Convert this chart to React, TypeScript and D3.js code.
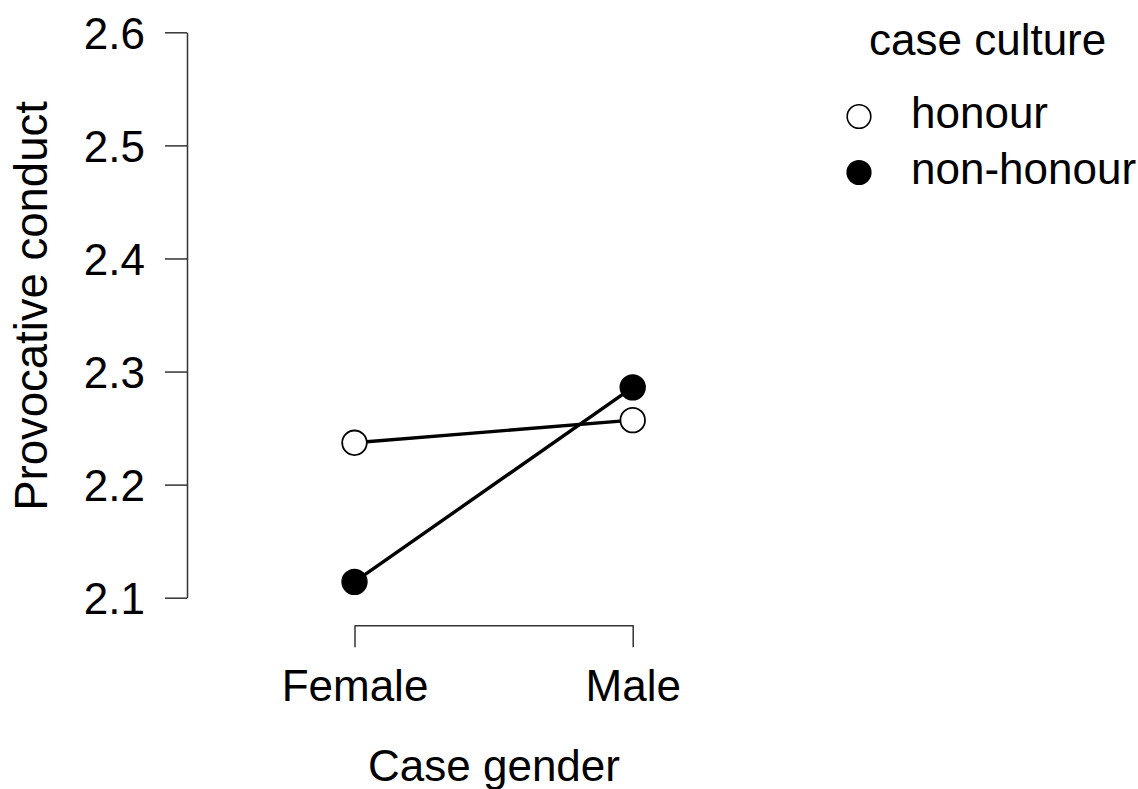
import React, { useRef, useEffect } from 'react';
import * as d3 from 'd3';

// Case gender categories on the x axis
const genders = ['Female', 'Male'];
// Mean provocative conduct per case culture
const honour = [2.237, 2.257];
const nonHonour = [2.114, 2.286];
const yTicks = [2.1, 2.2, 2.3, 2.4, 2.5, 2.6];
const series = [
    { name: 'honour', values: honour, fill: '#ffffff' },
    { name: 'non-honour', values: nonHonour, fill: '#000000' },
];

const App = () => {
    const svgRef = useRef<SVGSVGElement>(null);

    useEffect(() => {
        const width = 1138;
        const height = 789;
        const font = '"Liberation Sans", Arial, sans-serif';
        const fontSize = 44;

        const svg = d3.select(svgRef.current)
            .attr('width', width)
            .attr('height', height)
            .attr('viewBox', `0 0 ${width} ${height}`)
            .style('font-family', font);

        svg.selectAll('*').remove();

        const x = d3.scalePoint<string>()
            .domain(genders)
            .range([354.5, 632.7]);

        const y = d3.scaleLinear()
            .domain([2.1, 2.6])
            .range([597.7, 32.3]);

        // y axis: R-style, ticks outward, no outer ticks
        svg.append('g')
            .attr('transform', 'translate(187,0)')
            .call(d3.axisLeft(y).tickValues(yTicks).tickSize(22).tickSizeOuter(0).tickPadding(20)
                .tickFormat(d3.format('.1f')))
            .call(g => g.selectAll('path, line').attr('stroke', '#333').attr('stroke-width', 1.5))
            .call(g => g.selectAll('text')
                .attr('font-size', fontSize)
                .attr('font-family', font)
                .attr('fill', '#000')
                .attr('dy', '0.36em'));

        // x axis
        svg.append('g')
            .attr('transform', 'translate(0,625.3)')
            .call(d3.axisBottom(x).tickSize(22).tickSizeOuter(0).tickPadding(0))
            .call(g => g.selectAll('path, line').attr('stroke', '#333').attr('stroke-width', 1.5))
            .call(g => g.selectAll('text')
                .attr('font-size', fontSize)
                .attr('font-family', font)
                .attr('fill', '#000')
                .attr('y', 75.5)
                .attr('dy', 0));

        // axis titles
        svg.append('text')
            .attr('transform', 'translate(47,306) rotate(-90)')
            .attr('text-anchor', 'middle')
            .attr('font-size', 45.5)
            .text('Provocative conduct');

        svg.append('text')
            .attr('x', 494)
            .attr('y', 781)
            .attr('text-anchor', 'middle')
            .attr('font-size', fontSize)
            .text('Case gender');

        // lines and points
        const line = d3.line<number>()
            .x((_, i) => x(genders[i]) as number)
            .y(d => y(d));

        series.forEach(s => {
            svg.append('path')
                .datum(s.values)
                .attr('fill', 'none')
                .attr('stroke', '#000')
                .attr('stroke-width', 3.4)
                .attr('d', line);
        });

        series.forEach(s => {
            svg.append('g')
                .selectAll('circle')
                .data(s.values)
                .join('circle')
                .attr('cx', (_, i) => x(genders[i]) as number)
                .attr('cy', d => y(d))
                .attr('r', 12.3)
                .attr('fill', s.fill)
                .attr('stroke', '#000')
                .attr('stroke-width', 1.8);
        });

        // legend
        const legend = svg.append('g');
        legend.append('text')
            .attr('x', 869)
            .attr('y', 55)
            .attr('font-size', fontSize)
            .text('case culture');

        const item = legend.selectAll('g.item')
            .data(series)
            .join('g')
            .attr('class', 'item')
            .attr('transform', (_, i) => `translate(0,${i * 56})`);

        item.append('circle')
            .attr('cx', 859)
            .attr('cy', 116.5)
            .attr('r', 11.8)
            .attr('fill', d => d.fill)
            .attr('stroke', '#000')
            .attr('stroke-width', 1.6);

        item.append('text')
            .attr('x', 911)
            .attr('y', 127.5)
            .attr('font-size', fontSize)
            .text(d => d.name);
    }, []);

    return (
        <svg ref={svgRef} style={{ position: 'absolute', left: 0, top: 0 }}></svg>
    );
};

export default App;
